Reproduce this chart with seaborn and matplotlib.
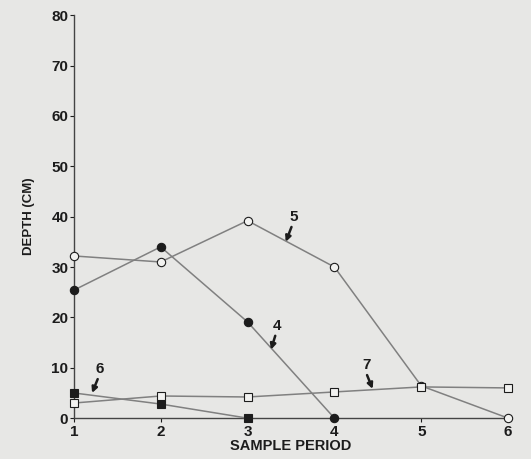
import matplotlib
matplotlib.use("Agg")
import matplotlib.pyplot as plt
import seaborn as sns
import pandas as pd

# Data
period = [1, 2, 3, 4, 5, 6]
site4 = [25.4, 34.0, 19.1, 0.0]          # filled circles
site5 = [32.2, 31.0, 39.2, 30.0, 6.4, 0.0]  # open circles
site6 = [5.0, 2.8, 0.0]                   # filled squares
site7 = [3.0, 4.4, 4.2, 5.2, 6.2, 6.0]    # open squares

sns.set_style("ticks")
plt.rcParams['font.family'] = ['Liberation Sans', 'DejaVu Sans']

bg = "#e7e7e5"
line_col = "#808080"
ink = "#1c1c1c"

fig = plt.figure(figsize=(5.31, 4.59), dpi=100, facecolor=bg)
ax = fig.add_axes([0.139, 0.089, 0.818, 0.878], facecolor=bg)

series = [
    (site4, "o", ink),
    (site5, "o", "#f2f2f0"),
    (site6, "s", ink),
    (site7, "s", "#f2f2f0"),
]
for vals, mk, fc in series:
    d = pd.DataFrame({"period": period[:len(vals)], "depth": vals})
    sns.lineplot(data=d, x="period", y="depth", ax=ax, color=line_col, lw=1.1,
                 marker=mk, markersize=6, markerfacecolor=fc,
                 markeredgecolor=ink, markeredgewidth=0.8, clip_on=False, zorder=3)

# series labels with small arrows
labels = [("5", (3.53, 38.6), (3.44, 35.0)),
          ("4", (3.34, 17.0), (3.27, 13.6)),
          ("6", (1.30, 8.4), (1.21, 5.0)),
          ("7", (4.37, 9.2), (4.44, 5.8))]
for txt, xy_t, xy_a in labels:
    ax.annotate(txt, xy=xy_a, xytext=xy_t, fontsize=11, fontweight="bold",
                color=ink, ha="center", va="bottom",
                arrowprops=dict(arrowstyle="-|>", color=ink, lw=1.8,
                                mutation_scale=8, shrinkA=0, shrinkB=0,
                                relpos=(0.4, 0.0)))

ax.set_xlim(1, 6)
ax.set_ylim(0, 80)
ax.set_xticks(period)
ax.set_yticks(range(0, 81, 10))
ax.tick_params(axis="both", labelsize=11, colors=ink, length=3, width=0.8)
ax.tick_params(axis="x", pad=2)
ax.tick_params(axis="y", pad=1)
for lab in ax.get_xticklabels() + ax.get_yticklabels():
    lab.set_fontweight("bold")
ax.set_xlabel("SAMPLE PERIOD", fontsize=10.5, fontweight="bold", color=ink, labelpad=0)
ax.set_ylabel("DEPTH (CM)", fontsize=9.5, fontweight="bold", color=ink, labelpad=12)
sns.despine(ax=ax)
for s in ["left", "bottom"]:
    ax.spines[s].set_color("#444444")
    ax.spines[s].set_linewidth(1.0)
if ax.get_legend():
    ax.get_legend().remove()

fig.savefig("out.png", dpi=100, facecolor=bg)
